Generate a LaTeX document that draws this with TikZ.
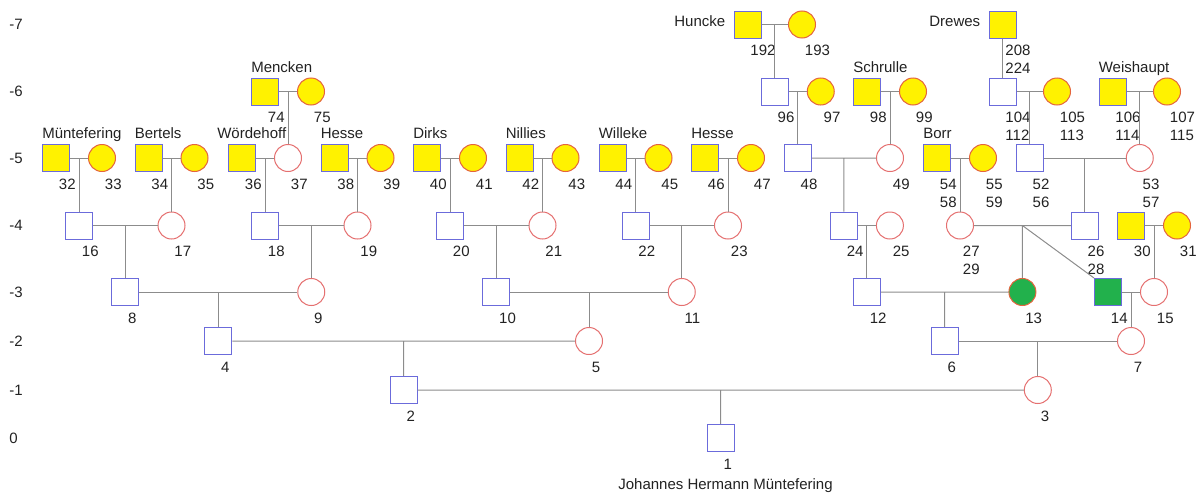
\documentclass[tikz,border=0pt]{standalone}
\usepackage{fontspec}
\setmainfont{Liberation Sans}
\usetikzlibrary{calc,positioning}

\definecolor{famyellow}{HTML}{FFF200}
\definecolor{famgreen}{HTML}{22B14C}
\definecolor{maleline}{HTML}{6B6BDB}
\definecolor{femline}{HTML}{E57070}
\definecolor{ancline}{HTML}{E4643E}
\definecolor{linkgray}{HTML}{8C8C8C}
\definecolor{txt}{HTML}{222222}

\newcommand{\twonum}[2]{\begin{tabular}[t]{@{}l@{}}#1\\#2\end{tabular}}

\begin{document}
\begin{tikzpicture}[x=0.75pt, y=-0.75pt,
        every node/.style={font=\fontsize{11.25pt}{13.5pt}\selectfont, text=txt},
        male/.style={draw=maleline, fill=white, line width=0.75pt, minimum size=20.25pt, inner sep=0pt},
        female/.style={circle, draw=femline, fill=white, line width=0.75pt, minimum size=20.25pt, inner sep=0pt},
        anc/.style={fill=famyellow},
        ill/.style={fill=famgreen},
        link/.style={draw=linkgray, line width=0.75pt},
        num/.style={anchor=base west, inner sep=0pt, xshift=2pt, yshift=-23.25pt},
        fam/.style={anchor=base west, inner sep=0pt, yshift=4.1pt}]

        \useasboundingbox (0,0) rectangle (1201,496);

        \foreach \g/\y in {-7/24.5, -6/91.5, -5/158, -4/225.5, -3/292, -2/341, -1/390, 0/438} {
            \node[anchor=base west, inner sep=0pt] (gen\g) at (9,\y+5.4) {\g};
        }

        \foreach \n/\x/\y in {32/56/158, 34/148.5/158, 36/242/158, 38/334.5/158, 40/427/158, 42/519.5/158, 44/612.5/158, 46/705/158, 54/937/158, 74/265/91.5, 98/867/91.5, 106/1112.5/91.5, 192/747.5/24.5, 208/1002.5/24.5, 30/1131/225.5}
            \node[male, anc] (p\n) at (\x,\y) {};
        \foreach \n/\x/\y in {33/102/158, 35/194.5/158, 39/380.5/158, 41/473/158, 43/565.5/158, 45/658.5/158, 47/751/158, 55/983/158, 75/311/91.5, 97/820.75/91.5, 99/913/91.5, 105/1057/91.5, 107/1167/91.5, 193/802/24.5, 31/1177/225.5}
            \node[female, anc, draw=ancline] (p\n) at (\x,\y) {};
        \foreach \n/\x/\y in {96/774.75/91.5, 104/1002.5/91.5, 48/797.75/158, 52/1029.75/158, 16/79/225.5, 18/265/225.5, 20/450/225.5, 22/635.5/225.5, 24/843.9/225.5, 26/1084.75/225.5, 8/125.25/292, 10/496.25/292, 12/866.9/292, 4/218.25/341, 6/944.6/341, 2/403.6/390, 1/720.7/438}
            \node[male] (p\n) at (\x,\y) {};
        \foreach \n/\x/\y in {37/288/158, 49/890/158, 53/1139.75/158, 17/171.5/225.5, 19/357.5/225.5, 21/542.5/225.5, 23/728/225.5, 25/889.9/225.5, 27/960/225.5, 9/311.25/292, 11/681.75/292, 15/1154/292, 5/589/341, 7/1131/341, 3/1037.8/390}
            \node[female] (p\n) at (\x,\y) {};
        \node[female, ill, draw=ancline] (p13) at (1022.4,292) {};
        \node[male, ill] (p14) at (1108,292) {};

        \foreach \n in {1,2,...,25,30,31,32,33,...,49,74,75,96,97,98,99,192,193}
            \node[num] (n\n) at (p\n) {\n};
        \foreach \n/\m in {26/28, 27/29, 52/56, 53/57, 54/58, 55/59, 104/112, 105/113, 106/114, 107/115, 208/224}
            \node[num] (n\n) at (p\n) {\twonum{\n}{\m}};

        \node[fam] (f32) at (p32.north west) {Müntefering};
        \node[fam] (f34) at (p34.north west) {Bertels};
        \node[fam, xshift=-8.25pt] (f36) at (p36.north west) {Wördehoff};
        \node[fam] (f38) at (p38.north west) {Hesse};
        \node[fam] (f40) at (p40.north west) {Dirks};
        \node[fam] (f42) at (p42.north west) {Nillies};
        \node[fam] (f44) at (p44.north west) {Willeke};
        \node[fam] (f46) at (p46.north west) {Hesse};
        \node[fam] (f54) at (p54.north west) {Borr};
        \node[fam] (f74) at (p74.north west) {Mencken};
        \node[fam] (f98) at (p98.north west) {Schrulle};
        \node[fam] (f106) at (p106.north west) {Weishaupt};
        \node[anchor=base east, inner sep=0pt, xshift=-6pt, yshift=-1.65pt] (f192) at (p192.west) {Huncke};
        \node[anchor=base east, inner sep=0pt, xshift=-6pt, yshift=-1.65pt] (f208) at (p208.west) {Drewes};
        \node[anchor=base, inner sep=0pt, xshift=3.6pt, yshift=-38.6pt] (f1) at (p1) {Johannes Hermann Müntefering};

        \foreach \l/\r/\c in {32/33/16, 34/35/17, 36/37/18, 38/39/19, 40/41/20, 42/43/21, 44/45/22, 46/47/23, 48/49/24, 54/55/27, 52/53/26, 74/75/37, 96/97/48, 98/99/49, 104/105/52, 106/107/53, 192/193/96, 16/17/8, 18/19/9, 20/21/10, 22/23/11, 24/25/12, 27/26/13, 30/31/15, 8/9/4, 10/11/5, 12/13/6, 14/15/7, 4/5/2, 6/7/3, 2/3/1} {
            \coordinate (u\l) at ($(p\l.east)!0.5!(p\r.west)$);
            \draw[link] (p\l) -- (p\r) (u\l) -- (p\c);
        }
        \draw[link] (p208) -- (p104);
        \draw[link] (u27) -- (p14.north west);
    \end{tikzpicture}
\end{document}
